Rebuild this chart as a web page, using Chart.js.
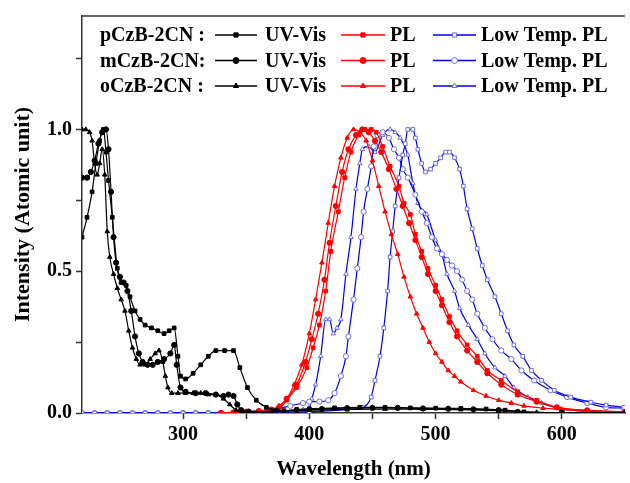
<!DOCTYPE html>
<html>
<head>
<meta charset="utf-8">
<script src="https://cdn.jsdelivr.net/npm/chart.js@4"></script>
<style>
  body { margin: 0; background: #fff; }
  #wrap { width: 630px; height: 483px; }
</style>
</head>
<body>
<div id="wrap"><canvas id="chart" width="630" height="483"></canvas></div>
<script>
// values: [wavelength nm, intensity]
const uvP = [[220,0.62],[224,0.69],[228,0.78],[231,0.88],[234,0.96],[237,1.0],[239,0.92],[241,0.82],[244,0.69],[248,0.51],[251,0.46],[255,0.45],[258,0.41],[262,0.36],[266,0.33],[270,0.31],[275,0.30],[280,0.29],[285,0.28],[289,0.29],[293,0.30],[296,0.20],[298,0.13],[302,0.12],[308,0.14],[314,0.17],[320,0.20],[326,0.22],[333,0.22],[340,0.22],[345,0.16],[351,0.09],[358,0.045],[366,0.02],[374,0.01],[380,0.008],[390,0.012],[400,0.015],[420,0.018],[440,0.02],[460,0.02],[480,0.018],[500,0.017],[520,0.016],[540,0.014],[555,0.01],[570,0.004],[600,0.001],[650,0]];
const uvM = [[220,0.83],[224,0.83],[227,0.85],[230,0.89],[233,0.95],[236,0.99],[239,1.0],[241,0.93],[243,0.78],[245,0.62],[247,0.53],[250,0.48],[253,0.46],[256,0.43],[259,0.36],[262,0.27],[265,0.21],[268,0.18],[272,0.17],[276,0.17],[280,0.18],[285,0.19],[290,0.21],[293,0.24],[295,0.17],[298,0.09],[302,0.075],[310,0.07],[318,0.07],[326,0.065],[332,0.06],[336,0.065],[340,0.06],[343,0.03],[346,0.01],[352,0.005],[370,0.006],[390,0.01],[410,0.014],[430,0.017],[450,0.018],[470,0.018],[490,0.016],[510,0.015],[530,0.013],[550,0.01],[565,0.004],[600,0.001],[650,0]];
const uvO = [[220,1.0],[223,1.0],[226,0.99],[228,0.96],[230,0.88],[232,0.84],[234,0.88],[236,0.93],[238,0.84],[240,0.64],[242,0.55],[245,0.49],[248,0.44],[251,0.40],[254,0.36],[257,0.29],[260,0.23],[263,0.19],[266,0.17],[270,0.17],[274,0.19],[278,0.21],[281,0.22],[284,0.18],[286,0.13],[288,0.09],[291,0.07],[296,0.07],[302,0.07],[308,0.07],[314,0.07],[320,0.065],[326,0.065],[332,0.05],[337,0.03],[342,0.01],[348,0.003],[370,0.004],[400,0.01],[430,0.013],[460,0.014],[490,0.013],[520,0.012],[550,0.008],[580,0.002],[650,0]];

const plP = [[330,0],[340,0.002],[350,0.004],[360,0.006],[370,0.01],[376,0.015],[382,0.045],[390,0.09],[398,0.16],[403,0.23],[408,0.31],[413,0.43],[417,0.57],[423,0.71],[428,0.83],[433,0.92],[439,0.98],[444,1.0],[449,1.0],[453,0.99],[458,0.94],[464,0.87],[471,0.8],[475,0.74],[480,0.7],[484,0.63],[489,0.57],[494,0.51],[500,0.45],[505,0.4],[511,0.34],[517,0.29],[525,0.24],[533,0.2],[541,0.15],[552,0.115],[565,0.075],[580,0.045],[596,0.02],[620,0.01],[650,0.004]];
const plM = [[330,0],[340,0.002],[350,0.004],[360,0.007],[370,0.012],[376,0.02],[382,0.05],[390,0.1],[397,0.18],[402,0.26],[407,0.35],[412,0.47],[416,0.6],[421,0.73],[426,0.85],[431,0.93],[437,0.98],[442,1.0],[447,0.99],[452,0.96],[457,0.92],[463,0.86],[469,0.79],[474,0.73],[479,0.67],[484,0.61],[489,0.55],[494,0.49],[500,0.43],[505,0.38],[511,0.32],[517,0.27],[525,0.22],[533,0.18],[541,0.14],[552,0.1],[565,0.065],[580,0.04],[596,0.02],[620,0.009],[650,0.003]];
const plO = [[330,0],[340,0.002],[350,0.004],[360,0.007],[370,0.012],[376,0.025],[382,0.05],[388,0.1],[394,0.17],[400,0.28],[405,0.4],[410,0.53],[415,0.67],[420,0.8],[425,0.9],[430,0.97],[435,1.0],[440,0.99],[445,0.96],[450,0.89],[455,0.8],[460,0.71],[465,0.63],[470,0.56],[475,0.48],[480,0.41],[485,0.35],[490,0.3],[495,0.25],[500,0.21],[505,0.18],[510,0.15],[515,0.13],[520,0.11],[530,0.08],[540,0.06],[550,0.045],[560,0.035],[570,0.025],[585,0.017],[600,0.012],[620,0.007],[650,0.003]];

const ltP = [[220,0],[230,0],[240,0],[250,0],[260,0],[270,0],[280,0],[290,0],[300,0],[310,0],[320,0],[330,0],[360,0.002],[400,0.005],[430,0.012],[442,0.02],[449,0.056],[452,0.115],[456,0.2],[459,0.3],[462,0.43],[464,0.55],[466,0.64],[468,0.73],[471,0.83],[474,0.91],[476,0.95],[478,1.0],[482,1.0],[484,0.97],[486,0.93],[489,0.88],[492,0.85],[496,0.86],[500,0.88],[504,0.9],[508,0.92],[511,0.92],[515,0.9],[519,0.86],[522,0.8],[525,0.72],[529,0.65],[533,0.58],[537,0.52],[541,0.47],[547,0.41],[552,0.35],[557,0.29],[562,0.24],[569,0.2],[576,0.15],[584,0.115],[594,0.08],[607,0.056],[623,0.038],[635,0.028],[649,0.02]];
const ltM = [[220,0],[230,0],[240,0],[250,0],[260,0],[270,0],[280,0],[290,0],[300,0],[310,0],[320,0],[330,0],[350,0.005],[370,0.012],[385,0.025],[395,0.035],[400,0.04],[408,0.04],[415,0.045],[420,0.07],[425,0.13],[429,0.2],[431,0.27],[435,0.4],[438,0.51],[441,0.62],[443,0.71],[446,0.79],[449,0.87],[451,0.94],[454,0.98],[458,0.99],[463,0.97],[467,0.93],[471,0.9],[474,0.86],[478,0.83],[484,0.77],[489,0.71],[493,0.67],[497,0.62],[501,0.58],[505,0.56],[509,0.54],[513,0.52],[517,0.5],[521,0.47],[525,0.43],[529,0.4],[533,0.35],[539,0.3],[545,0.26],[552,0.22],[560,0.19],[568,0.15],[578,0.115],[591,0.08],[604,0.056],[620,0.035],[635,0.02],[649,0.017]];
const ltO = [[220,0],[230,0],[240,0],[250,0],[260,0],[270,0],[280,0],[290,0],[300,0],[310,0],[320,0],[330,0],[360,0.003],[380,0.008],[395,0.012],[400,0.02],[402,0.05],[405,0.1],[409,0.2],[413,0.33],[416,0.33],[419,0.28],[422,0.3],[425,0.33],[429,0.49],[433,0.62],[437,0.79],[440,0.88],[442,0.93],[447,0.94],[452,0.92],[458,0.98],[464,1.0],[468,0.99],[472,0.97],[478,0.91],[482,0.81],[486,0.74],[493,0.7],[500,0.61],[505,0.56],[509,0.49],[515,0.43],[519,0.37],[526,0.31],[533,0.26],[539,0.21],[547,0.16],[555,0.13],[562,0.09],[573,0.056],[584,0.035],[599,0.015],[620,0.006],[649,0.003]];

const rowLabels = ['pCzB-2CN :', 'mCzB-2CN:', 'oCzB-2CN :'];
const kindLabels = ['UV-Vis', 'PL', 'Low Temp. PL'];

const FONT = '"Liberation Serif", "Times New Roman", serif';
const AXIS = '#333';

function toXY(arr) {
    return arr.map(p => ({ x: p[0], y: p[1] }));
}

function series(label, arr, kind, style) {
    const looks = {
        uv: { line: '#000000', fill: '#000000', edge: '#000000' },
        pl: { line: '#ff0000', fill: '#ff0000', edge: '#ff0000' },
        lt: { line: '#0000ee', fill: '#ffffff', edge: '#6f6fe0' }
    }[kind];
    return {
        label: label,
        data: toXY(arr),
        borderColor: looks.line,
        backgroundColor: looks.fill,
        pointStyle: style,
        pointBackgroundColor: looks.fill,
        pointBorderColor: looks.edge,
        pointRadius: 2.6,
        pointBorderWidth: 1,
        borderWidth: 1.2,
        cubicInterpolationMode: 'monotone',
        fill: false
    };
}

const datasets = [
    series('pCzB-2CN UV-Vis', uvP, 'uv', 'rect'),
    series('mCzB-2CN UV-Vis', uvM, 'uv', 'circle'),
    series('oCzB-2CN UV-Vis', uvO, 'uv', 'triangle'),
    series('pCzB-2CN PL', plP, 'pl', 'rect'),
    series('mCzB-2CN PL', plM, 'pl', 'circle'),
    series('oCzB-2CN PL', plO, 'pl', 'triangle'),
    series('pCzB-2CN Low Temp. PL', ltP, 'lt', 'rect'),
    series('mCzB-2CN Low Temp. PL', ltM, 'lt', 'circle'),
    series('oCzB-2CN Low Temp. PL', ltO, 'lt', 'triangle')
];

// legend block: 3 rows x 3 kinds, drawn inside the plot
const legendPlugin = {
    id: 'rowLegend',
    afterDraw(chart) {
        const ctx = chart.ctx;
        const rowsY = [35, 60.5, 86];
        const segs = [[215, 257, 265], [341, 385, 390], [433, 476, 481]];
        ctx.save();
        ctx.font = 'bold 20px ' + FONT;
        ctx.textBaseline = 'middle';
        rowLabels.forEach((name, r) => {
            const y = rowsY[r];
            ctx.fillStyle = '#000';
            ctx.textAlign = 'left';
            ctx.fillText(name, 100, y + 1);
            kindLabels.forEach((kind, k) => {
                const ds = chart.data.datasets[k * 3 + r];
                const s = segs[k];
                ctx.strokeStyle = ds.borderColor;
                ctx.lineWidth = 1.5;
                ctx.beginPath();
                ctx.moveTo(s[0], y);
                ctx.lineTo(s[1], y);
                ctx.stroke();
                ctx.fillStyle = ds.pointBackgroundColor;
                ctx.strokeStyle = ds.pointBorderColor;
                ctx.lineWidth = 1;
                Chart.helpers.drawPoint(ctx, { pointStyle: ds.pointStyle, radius: 3, borderWidth: 1, rotation: 0 }, (s[0] + s[1]) / 2, y);
                ctx.fillStyle = '#000';
                ctx.fillText(kind, s[2], y + 1);
            });
        });
        // top frame line
        const a = chart.chartArea;
        ctx.strokeStyle = AXIS;
        ctx.lineWidth = 1.5;
        ctx.beginPath();
        ctx.moveTo(a.left, a.top);
        ctx.lineTo(a.right, a.top);
        ctx.stroke();
        ctx.restore();
    }
};

new Chart(document.getElementById('chart'), {
    type: 'line',
    data: { datasets: datasets },
    plugins: [legendPlugin],
    options: {
        responsive: false,
        animation: false,
        layout: { padding: { top: 12, right: 0, left: 0, bottom: 0 } },
        plugins: {
            legend: { display: false },
            tooltip: { enabled: false }
        },
        scales: {
            x: {
                type: 'linear',
                min: 220,
                max: 650,
                afterFit: s => { s.height = 70; },
                ticks: {
                    stepSize: 50,
                    autoSkip: false,
                    maxRotation: 0,
                    padding: 4,
                    color: '#000',
                    font: { family: FONT, size: 20, weight: 'bold' },
                    callback: v => (v % 100 === 0 && v < 650) ? String(v) : ''
                },
                grid: {
                    drawOnChartArea: false,
                    drawTicks: true,
                    tickLength: 6,
                    tickWidth: 1.5,
                    tickColor: c => (c.tick && c.tick.value % 50 === 0 && c.tick.value > 220 && c.tick.value < 650) ? AXIS : 'rgba(0,0,0,0)'
                },
                border: { color: AXIS, width: 1.5 },
                title: {
                    display: true,
                    text: 'Wavelength (nm)',
                    color: '#000',
                    font: { family: FONT, size: 21, weight: 'bold' },
                    padding: { top: 4, bottom: 1 }
                }
            },
            y: {
                min: 0,
                max: 1.4,
                afterFit: s => { s.width = 82; },
                ticks: {
                    stepSize: 0.25,
                    padding: 4,
                    color: '#000',
                    font: { family: FONT, size: 20, weight: 'bold' },
                    callback: v => Math.abs(v * 2 - Math.round(v * 2)) < 1e-9 ? v.toFixed(1) : ''
                },
                grid: {
                    drawOnChartArea: false,
                    drawTicks: true,
                    tickLength: 6,
                    tickWidth: 1.5,
                    tickColor: c => (c.tick && Math.abs(c.tick.value * 4 - Math.round(c.tick.value * 4)) < 1e-9) ? AXIS : 'rgba(0,0,0,0)'
                },
                border: { color: AXIS, width: 1.5 },
                title: {
                    display: true,
                    text: 'Intensity (Atomic unit)',
                    color: '#000',
                    font: { family: FONT, size: 22, weight: 'bold' },
                    padding: { top: 10, bottom: 4 }
                }
            }
        }
    }
});
</script>
</body>
</html>
